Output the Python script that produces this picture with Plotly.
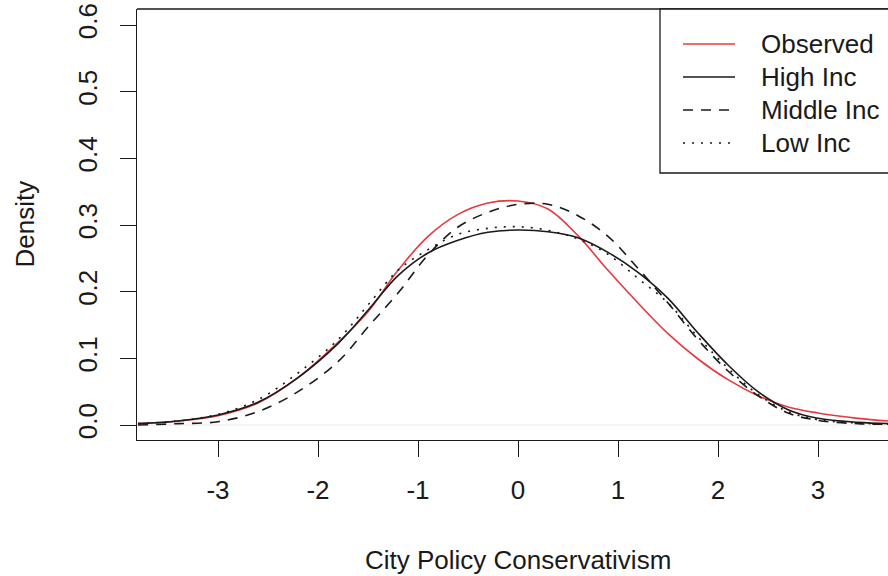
import plotly.graph_objects as go

# Grid of policy scores at which each density is read
x_grid = [-3.8, -3.4, -3.0, -2.6, -2.2, -1.8, -1.5, -1.2, -0.9, -0.6, -0.3, 0.0,
          0.3, 0.6, 0.9, 1.2, 1.5, 1.8, 2.1, 2.4, 2.7, 3.0, 3.4, 3.8]

observed = [0.002, 0.006, 0.014, 0.033, 0.071, 0.124, 0.170, 0.232, 0.283, 0.316, 0.333, 0.336,
            0.324, 0.284, 0.232, 0.183, 0.137, 0.099, 0.068, 0.044, 0.027, 0.018, 0.010, 0.005]
high_inc = [0.002, 0.006, 0.015, 0.034, 0.071, 0.122, 0.172, 0.224, 0.258, 0.277, 0.289, 0.2925,
            0.290, 0.281, 0.259, 0.229, 0.190, 0.138, 0.090, 0.050, 0.023, 0.010, 0.004, 0.002]
middle_inc = [0.000, 0.002, 0.005, 0.020, 0.050, 0.095, 0.147, 0.198, 0.255, 0.297, 0.319, 0.331,
              0.331, 0.314, 0.283, 0.235, 0.183, 0.128, 0.081, 0.044, 0.018, 0.007, 0.002, 0.001]
low_inc = [0.002, 0.006, 0.016, 0.038, 0.078, 0.128, 0.180, 0.232, 0.263, 0.286, 0.295, 0.2975,
           0.292, 0.279, 0.256, 0.220, 0.183, 0.132, 0.085, 0.046, 0.020, 0.008, 0.003, 0.001]

series_names = ["Observed", "High Inc", "Middle Inc", "Low Inc"]
series_values = [observed, high_inc, middle_inc, low_inc]
series_colors = ["#e8383d", "#1a1a1a", "#1a1a1a", "#1a1a1a"]
series_dash = ["solid", "solid", "10px,8px", "2px,7px"]

x_ticks = [-3, -2, -1, 0, 1, 2, 3]
y_ticks = [0.0, 0.1, 0.2, 0.3, 0.4, 0.5, 0.6]

FONT = "Liberation Sans, Arial, Helvetica, sans-serif"
FS = 26
INK = "#1a1a1a"

W, H = 888, 576
L, R, T, B = 137, 0, 9, 136
pw, ph = W - L - R, H - T - B

def px_x(p):
    return (p - L) / pw

def px_y(p):
    return (H - B - p) / ph

fig = go.Figure()

for name, vals, col, dash in zip(series_names, series_values, series_colors, series_dash):
    fig.add_trace(go.Scatter(
        x=x_grid, y=vals, mode="lines", name=name,
        line=dict(color=col, width=1.6, dash=dash, shape="spline", smoothing=1.0),
        showlegend=False,
    ))

shapes = []
# zero reference line
shapes.append(dict(type="line", xref="paper", yref="y", x0=0, x1=1, y0=0, y1=0,
                   line=dict(color="#e6e6e6", width=1), layer="below"))
# top edge of the frame
shapes.append(dict(type="line", xref="paper", yref="paper", x0=0, x1=1, y0=1, y1=1,
                   line=dict(color=INK, width=1.3)))

# legend box
shapes.append(dict(type="rect", xref="paper", yref="paper",
                   x0=px_x(660), x1=px_x(905), y0=px_y(173), y1=1,
                   line=dict(color=INK, width=1.3), fillcolor="white"))

annotations = []
row_y = [44, 77, 110, 143]
for name, col, dash, ry in zip(series_names, series_colors, series_dash, row_y):
    shapes.append(dict(type="line", xref="paper", yref="paper",
                       x0=px_x(683), x1=px_x(735), y0=px_y(ry), y1=px_y(ry),
                       line=dict(color=col, width=1.6, dash=dash)))
    annotations.append(dict(text=name, xref="paper", yref="paper",
                            x=px_x(759), y=px_y(ry), xanchor="left", yanchor="middle",
                            showarrow=False, font=dict(family=FONT, size=FS, color=INK)))

# axis titles
annotations.append(dict(text="Density", xref="paper", yref="paper",
                        x=0, xshift=24 - L, y=0.5, textangle=-90,
                        xanchor="center", yanchor="middle", showarrow=False,
                        font=dict(family=FONT, size=FS, color=INK)))
annotations.append(dict(text="City Policy Conservativism", xref="x", yref="paper",
                        x=0, y=0, yshift=-(560 - (H - B)),
                        xanchor="center", yanchor="middle", showarrow=False,
                        font=dict(family=FONT, size=FS, color=INK)))

fig.update_layout(
    width=W, height=H,
    margin=dict(l=L, r=R, t=T, b=B, pad=0),
    paper_bgcolor="white", plot_bgcolor="white",
    font=dict(family=FONT, size=FS, color=INK),
    shapes=shapes, annotations=annotations,
    showlegend=False,
)

fig.update_xaxes(
    range=[-3.81, 3.70], tickvals=x_ticks, ticktext=[str(v) for v in x_ticks],
    ticks="outside", ticklen=16, tickwidth=1.3, tickcolor=INK,
    showline=True, linecolor=INK, linewidth=1.3,
    showgrid=False, zeroline=False, ticklabelstandoff=11,
)
fig.update_yaxes(
    range=[-0.0225, 0.624], tickvals=y_ticks, ticktext=[f"{v:.1f}" for v in y_ticks],
    ticks="outside", ticklen=16, tickwidth=1.3, tickcolor=INK, tickangle=-90,
    showline=True, linecolor=INK, linewidth=1.3,
    showgrid=False, zeroline=False, ticklabelstandoff=12,
)

fig.write_html("out.html")
